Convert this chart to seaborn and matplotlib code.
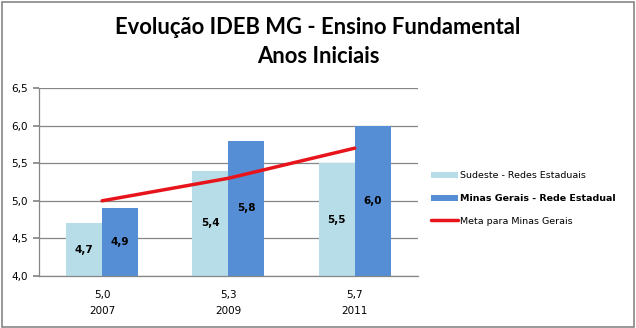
import matplotlib
matplotlib.use("Agg")
import matplotlib.pyplot as plt
import seaborn as sns
import pandas as pd
from matplotlib.patches import Patch, Rectangle
from matplotlib.lines import Line2D

years = ["2007", "2009", "2011"]
tick_labels = ["5,0\n2007", "5,3\n2009", "5,7\n2011"]
sudeste = [4.7, 5.4, 5.5]
minas = [4.9, 5.8, 6.0]
meta = [5.0, 5.3, 5.7]
series_names = ["Sudeste - Redes Estaduais", "Minas Gerais - Rede Estadual"]
meta_name = "Meta para Minas Gerais"
colors = ["#B7DEE8", "#558ED5"]
red = "#E8141B"

sns.set_theme(style="white")
plt.rcParams["font.family"] = ["DejaVu Sans"]
plt.rcParams["text.color"] = "black"
plt.rcParams["xtick.labelcolor"] = "black"
plt.rcParams["ytick.labelcolor"] = "black"

df = pd.DataFrame({
    "ano": years * 2,
    "valor": sudeste + minas,
    "serie": [series_names[0]] * 3 + [series_names[1]] * 3,
})

fig = plt.figure(figsize=(6.36, 3.28), dpi=100)
ax = fig.add_axes([0.0613, 0.1585, 0.5958, 0.5732])

sns.barplot(data=df, x="ano", y="valor", hue="serie", palette=colors,
            width=0.57, ax=ax, legend=False, saturation=1, gap=0)
sns.pointplot(x=years, y=meta, color=red, marker="", linestyle="-",
              linewidth=2.5, errorbar=None, ax=ax)

# value labels in bar centers
for cont in ax.containers:
    for bar in cont:
        h = bar.get_height()
        ax.text(bar.get_x() + bar.get_width() / 2, 4.0 + (h - 4.0) / 2,
                f"{h:.1f}".replace(".", ","), ha="center", va="center",
                fontsize=7.5, fontweight="bold", color="black")

for b in ax.patches:
    b.set_y(4.0)
    b.set_height(b.get_height() - 4.0)
    b.set_edgecolor("none")

ax.set_ylim(4.0, 6.5)
ax.set_xlim(-0.5, 2.5)
yt = [4.0, 4.5, 5.0, 5.5, 6.0, 6.5]
ax.set_yticks(yt)
ax.set_yticklabels([f"{v:.1f}".replace(".", ",") for v in yt], fontsize=7.5)
ax.set_xticks(range(3))
ax.set_xticklabels(tick_labels, fontsize=7.5, linespacing=1.8)
ax.set_xlabel("")
ax.set_ylabel("")
ax.grid(axis="y", color="#868686", linewidth=0.9)
ax.set_axisbelow(True)
for s in ["top", "right"]:
    ax.spines[s].set_visible(False)
for s in ["left", "bottom"]:
    ax.spines[s].set_color("#868686")
    ax.spines[s].set_linewidth(0.9)
ax.tick_params(axis="y", length=4, color="#868686", left=True, pad=4)
ax.tick_params(axis="x", length=0, pad=10)

handles = [Patch(facecolor=colors[0], edgecolor="none"),
           Patch(facecolor=colors[1], edgecolor="none"),
           Line2D([0], [0], color=red, linewidth=2.5)]
leg = fig.legend(handles, series_names + [meta_name], loc="center left",
                 bbox_to_anchor=(0.665, 0.395), frameon=False, fontsize=6.8,
                 handlelength=2.8, handleheight=0.6, handletextpad=0.2,
                 labelspacing=1.45)
leg.get_texts()[1].set_fontweight("bold")

fig.text(0.5, 0.915, "Evolução IDEB MG - Ensino Fundamental", ha="center",
         va="center", fontsize=15.8, fontweight="bold", color="black",
         family=["Lato", "DejaVu Sans"])
fig.text(0.5, 0.828, "Anos Iniciais", ha="center", va="center", fontsize=15.8,
         fontweight="bold", color="black", family=["Lato", "DejaVu Sans"])

fig.patches.append(Rectangle((0.003, 0.004), 0.994, 0.99, transform=fig.transFigure,
                             fill=False, edgecolor="#868686", linewidth=1.2))

fig.savefig("out.png", dpi=100)
